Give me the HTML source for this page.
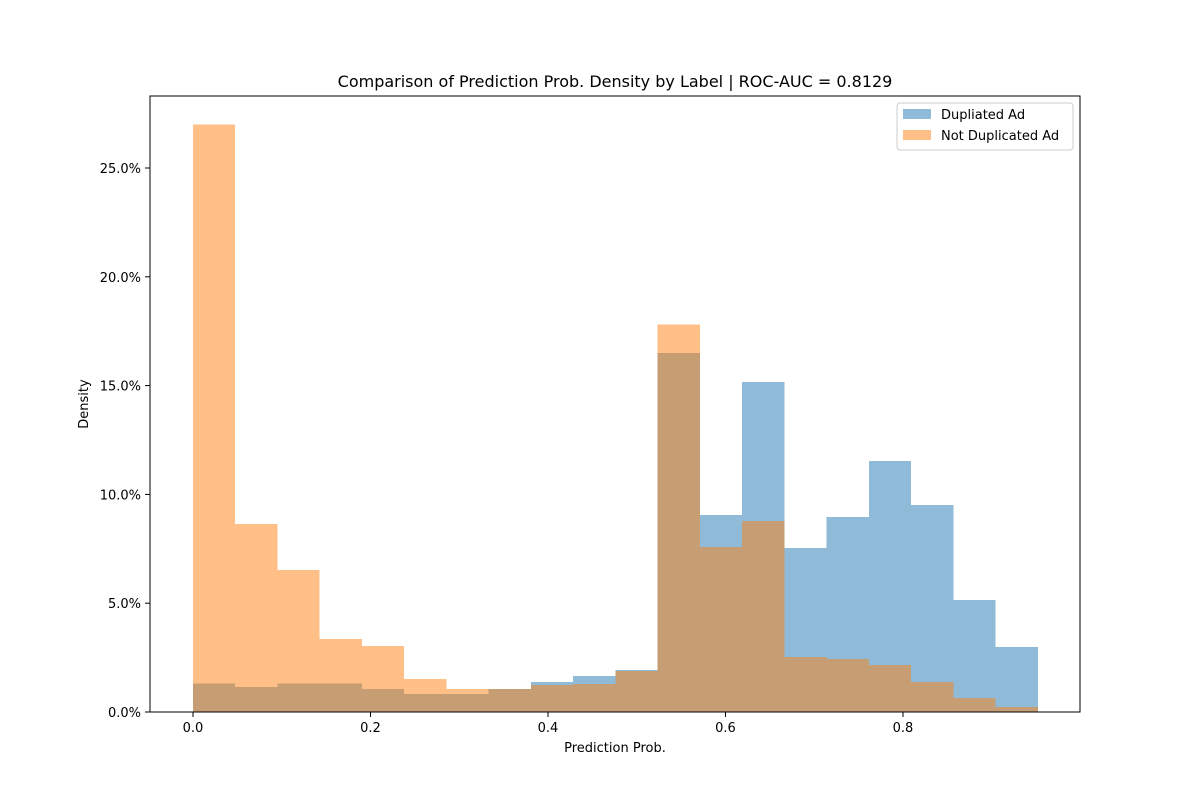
<!DOCTYPE html>
<html><head><meta charset="utf-8"><style>
body{margin:0;background:#fff;font-family:"Liberation Sans","DejaVu Sans",sans-serif;}
svg text{font-family:"DejaVu Sans","Liberation Sans",sans-serif;}
</style></head><body>
<svg id="chart" width="1200" height="800" xmlns="http://www.w3.org/2000/svg">
<rect width="1200" height="800" fill="#fff"/>
<g id="bars" shape-rendering="crispEdges"></g>
<rect x="150" y="96" width="930" height="616" fill="none" stroke="#000" stroke-width="1"/>
<g id="axes"></g>
<text x="615" y="87" font-size="16" text-anchor="middle">Comparison of Prediction Prob. Density by Label | ROC-AUC = 0.8129</text>
<text x="615" y="752" font-size="13" text-anchor="middle">Prediction Prob.</text>
<text x="88" y="404" font-size="13" text-anchor="middle" transform="rotate(-90 88 404)">Density</text>
<g>
<rect x="897" y="103" width="176" height="47" rx="3" fill="#fff" fill-opacity="0.8" stroke="#ccc"/>
<rect x="903" y="109" width="28" height="10" fill="#1f77b4" fill-opacity="0.5"/>
<text x="941" y="119" font-size="13">Dupliated Ad</text>
<rect x="903" y="130" width="28" height="10" fill="#ff7f0e" fill-opacity="0.5"/>
<text x="941" y="140" font-size="13">Not Duplicated Ad</text>
</g>
</svg>
<script>
const binStart = 0.0;
const binWidth = 0.0476;
const dupValues = [1.3,1.15,1.3,1.3,1.06,0.83,0.83,1.06,1.38,1.65,1.93,16.5,9.05,15.17,7.54,8.96,11.53,9.51,5.15,2.99];
const notDupValues = [27.0,8.64,6.53,3.35,3.03,1.52,1.06,1.06,1.24,1.29,1.88,17.8,7.58,8.78,2.53,2.44,2.16,1.38,0.64,0.23];
const xTicks = [0.0,0.2,0.4,0.6,0.8];
const yTicks = [0,5,10,15,20,25];
const xs = v => 193 + v*887.5;
const ys = v => 712 - v*21.76;
const NS = "http://www.w3.org/2000/svg";
const bars = document.getElementById('bars');
function drawSeries(vals, color, name){
  vals.forEach((v,i)=>{
    const r = document.createElementNS(NS,'rect');
    const x0 = xs(binStart + i*binWidth), x1 = xs(binStart+(i+1)*binWidth);
    r.setAttribute('x', x0); r.setAttribute('width', x1-x0);
    r.setAttribute('y', ys(v)); r.setAttribute('height', 712-ys(v));
    r.setAttribute('fill', color); r.setAttribute('fill-opacity','0.5');
    
    
    bars.appendChild(r);
  });
}
drawSeries(dupValues,'#1f77b4','duplicated');
drawSeries(notDupValues,'#ff7f0e','not-duplicated');
const axes = document.getElementById('axes');
xTicks.forEach(t=>{
  const l=document.createElementNS(NS,'line');
  l.setAttribute('x1',xs(t));l.setAttribute('x2',xs(t));l.setAttribute('y1',712);l.setAttribute('y2',717);l.setAttribute('stroke','#000');
  
  
  axes.appendChild(l);
  const tx=document.createElementNS(NS,'text');
  tx.setAttribute('x',xs(t));tx.setAttribute('y',732);tx.setAttribute('font-size','13');tx.setAttribute('text-anchor','middle');
  tx.textContent=t.toFixed(1);
  
  
  axes.appendChild(tx);
});
yTicks.forEach(t=>{
  const l=document.createElementNS(NS,'line');
  l.setAttribute('x1',145);l.setAttribute('x2',150);l.setAttribute('y1',ys(t));l.setAttribute('y2',ys(t));l.setAttribute('stroke','#000');
  
  
  axes.appendChild(l);
  const tx=document.createElementNS(NS,'text');
  tx.setAttribute('x',141);tx.setAttribute('y',ys(t)+5);tx.setAttribute('font-size','13');tx.setAttribute('text-anchor','end');
  tx.textContent=t.toFixed(1)+'%';
  
  
  axes.appendChild(tx);
});
</script>
</body></html>
